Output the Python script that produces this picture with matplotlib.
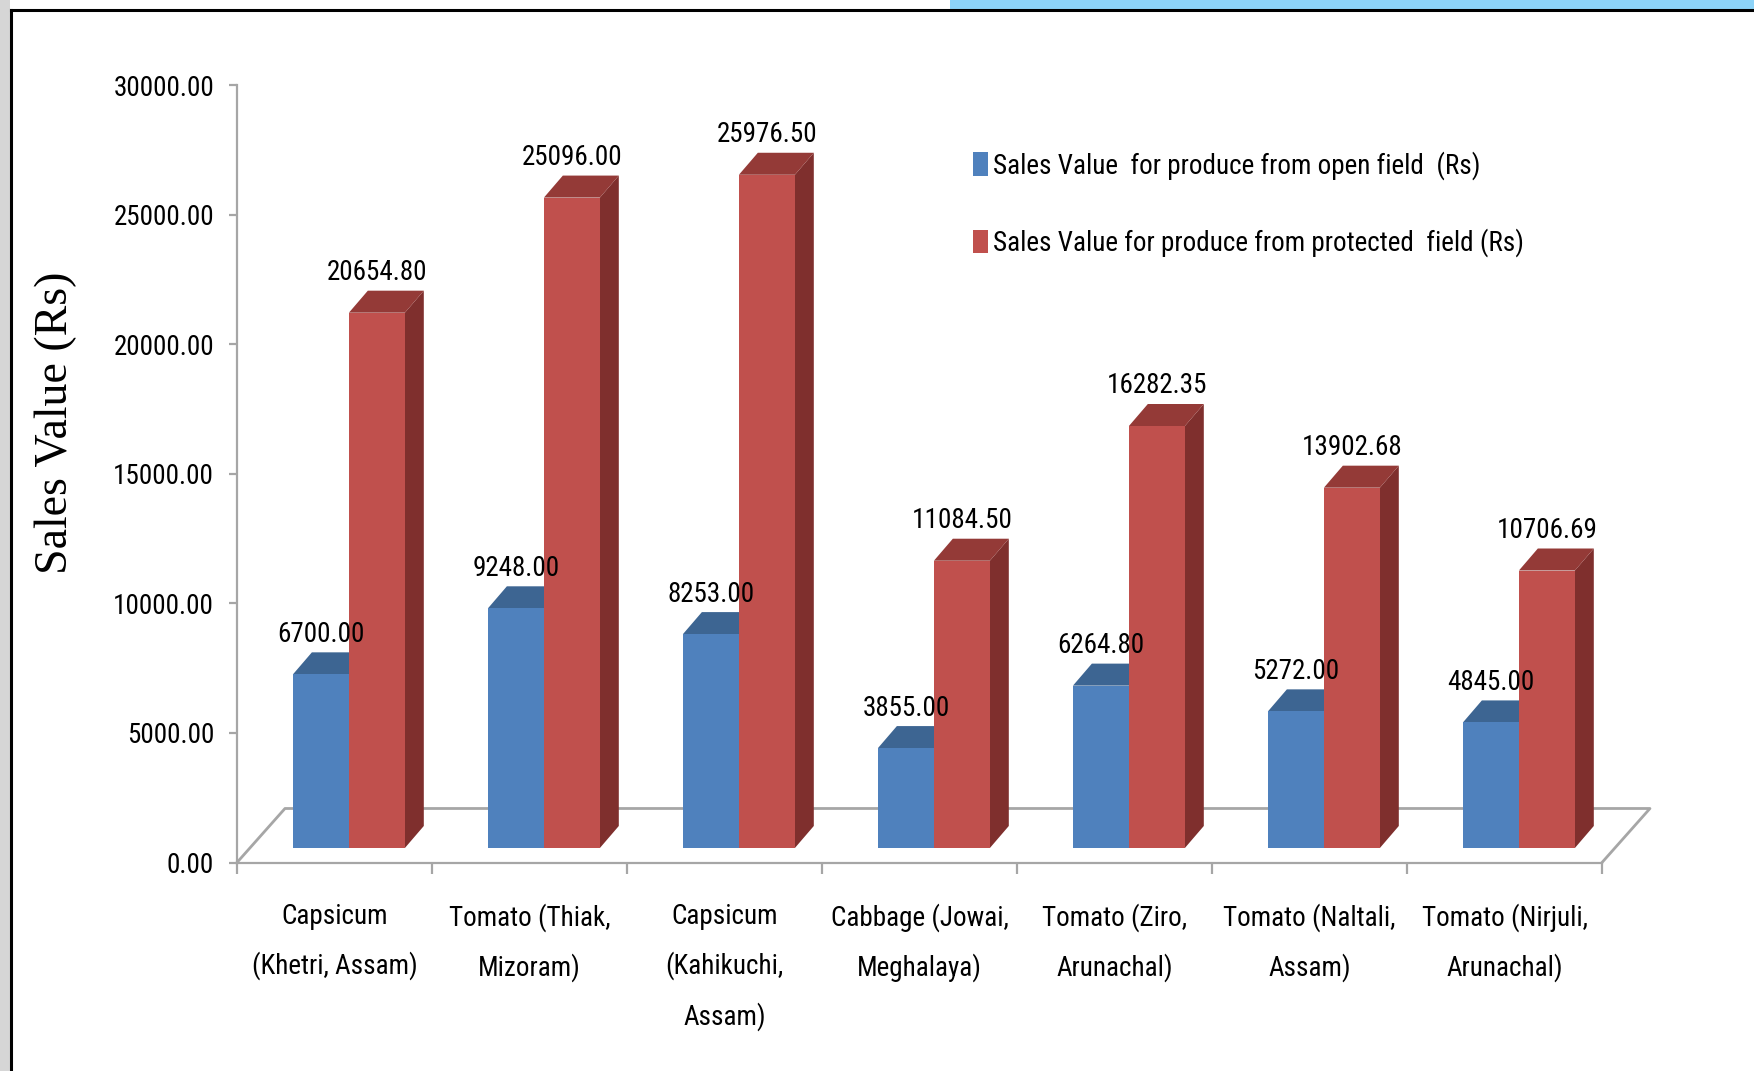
import numpy as np
import matplotlib.pyplot as plt
from matplotlib import font_manager
from matplotlib.patches import Polygon, Patch, Rectangle
from matplotlib.lines import Line2D

# data
categories = ['Capsicum\n(Khetri, Assam)', 'Tomato (Thiak,\nMizoram)',
              'Capsicum\n(Kahikuchi,\nAssam)', 'Cabbage (Jowai,\nMeghalaya)',
              'Tomato (Ziro,\nArunachal)', 'Tomato (Naltali,\nAssam)',
              'Tomato (Nirjuli,\nArunachal)']
open_field = [6700.00, 9248.00, 8253.00, 3855.00, 6264.80, 5272.00, 4845.00]
protected_field = [20654.80, 25096.00, 25976.50, 11084.50, 16282.35, 13902.68, 10706.69]
series_names = ['Sales Value  for produce from open field  (Rs)',
                'Sales Value for produce from protected  field (Rs)']
y_ticks = [0, 5000, 10000, 15000, 20000, 25000, 30000]

# the original uses a narrow Calibri; pick the narrowest family we have
installed = {f.name for f in font_manager.fontManager.ttflist}
FS = 17.5
font = 'Liberation Sans'
for name, size in (('Liberation Sans Narrow', 21), ('Roboto Condensed', 19.5),
                   ('DejaVu Sans Condensed', 18)):
    if name in installed:
        font, FS = name, size
        break
plt.rcParams['font.family'] = [font, 'DejaVu Sans']

# colours (front, side, top)
blue = ('#4F81BD', '#385D8A', '#3D6592')
red = ('#C0504D', '#7F2F2D', '#943A37')
grid_gray = '#A6A6A6'

# fake 3-D geometry in data units
floor_dx, floor_dy = 0.246, 2084     # depth of the floor
base = 560                           # bars sit a little behind the front edge
depth_dx, depth_dy = 0.097, 849      # bar depth
bar_left, bar_w = 0.287, 0.287

fig = plt.figure(figsize=(17.54, 10.71), dpi=100)
ax = fig.add_axes([237 / 1754, 1 - 862.5 / 1071, 1365 / 1754, 777.5 / 1071])
n = len(categories)
ax.set_xlim(0, n)
ax.set_ylim(0, 30000)


def bar3d(x0, h, cols, z):
    y0, y1 = base, base + h
    x1 = x0 + bar_w
    front = [(x0, y0), (x1, y0), (x1, y1), (x0, y1)]
    side = [(x1, y0), (x1 + depth_dx, y0 + depth_dy),
            (x1 + depth_dx, y1 + depth_dy), (x1, y1)]
    top = [(x0, y1), (x0 + depth_dx, y1 + depth_dy),
           (x1 + depth_dx, y1 + depth_dy), (x1, y1)]
    for pts, c in ((side, cols[1]), (top, cols[2]), (front, cols[0])):
        ax.add_patch(Polygon(pts, closed=True, facecolor=c, edgecolor='none',
                             zorder=z, clip_on=False))


# floor outline (behind the bars)
ax.add_line(Line2D([0, floor_dx, n + floor_dx, n], [0, floor_dy, floor_dy, 0],
                   color=grid_gray, lw=2, zorder=1, clip_on=False))

for i in range(n):
    bar3d(i + bar_left, open_field[i], blue, 3)
    bar3d(i + bar_left + bar_w, protected_field[i], red, 4)
    for k, v in enumerate((open_field[i], protected_field[i])):
        ax.annotate(f'{v:.2f}', (i + bar_left + bar_w * (k + 0.5), base + v + depth_dy),
                    xytext=(0, 13), textcoords='offset points',
                    ha='center', va='center', fontsize=FS, zorder=6)

# axes styling
for s in ('top', 'right'):
    ax.spines[s].set_visible(False)
for s in ('left', 'bottom'):
    ax.spines[s].set_color(grid_gray)
    ax.spines[s].set_linewidth(1.6)
ax.set_yticks(y_ticks)
ax.set_yticklabels([f'{t:.2f}' for t in y_ticks], fontsize=FS)
ax.tick_params(axis='y', direction='out', length=5.5, width=1.6, color=grid_gray, pad=11)
ax.set_xticks(np.arange(n + 1))
ax.set_xticklabels([])
ax.tick_params(axis='x', which='major', direction='out', length=8, width=1.6, color=grid_gray)
ax.set_xticks(np.arange(n) + 0.5, minor=True)
ax.set_xticklabels(categories, minor=True, fontsize=FS, linespacing=1.97)
ax.tick_params(axis='x', which='minor', length=0, pad=29)
ax.patch.set_visible(False)

fig.text(56 / 1754, 1 - 423 / 1071, 'Sales Value (Rs)', rotation=90, ha='center', va='center',
         fontsize=33, family='Liberation Serif')

handles = [Patch(facecolor=blue[0]), Patch(facecolor=red[0])]
ax.legend(handles, series_names, loc='upper left', bbox_to_anchor=(973 / 1754, 1 - 151 / 1071),
          bbox_transform=fig.transFigure, frameon=False, fontsize=FS, borderpad=0,
          borderaxespad=0, handlelength=0.55, handleheight=0.95, handletextpad=0.2,
          labelspacing=1.8)

# slide frame decoration
fig.patches.append(Rectangle((0, 0), 10 / 1754, 1, transform=fig.transFigure,
                             facecolor='#D6D6D6', edgecolor='none'))
fig.patches.append(Rectangle((950 / 1754, 1 - 10 / 1071), 804 / 1754, 10 / 1071,
                             transform=fig.transFigure, facecolor='#8CD3F8', edgecolor='none'))
fig.lines.append(Line2D([11 / 1754, 11 / 1754], [0, 1 - 10 / 1071], transform=fig.transFigure,
                        color='black', lw=2.2))
fig.lines.append(Line2D([11 / 1754, 1], [1 - 10 / 1071, 1 - 10 / 1071], transform=fig.transFigure,
                        color='black', lw=2.2))

fig.savefig('out.png', dpi=100)
